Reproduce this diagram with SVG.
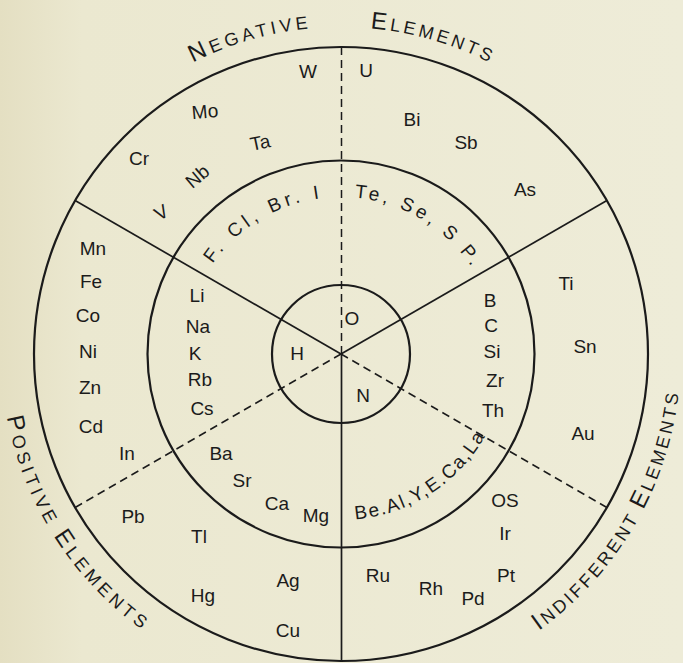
<svg xmlns="http://www.w3.org/2000/svg" width="683" height="663" viewBox="0 0 683 663">
<defs>
<linearGradient id="bg" x1="0" y1="0" x2="1" y2="0">
<stop offset="0" stop-color="#E4DFC2"/>
<stop offset="0.12" stop-color="#EBE8D0"/>
<stop offset="1" stop-color="#EEECD8"/>
</linearGradient>
<path id="arcTop" d="M 14 354 A 327 327 0 0 1 668 354"/>
<path id="arcBot" d="M 1 354 A 340 340 0 0 0 681 354"/>
<path id="arcMidTop" d="M 184 354 A 157 157 0 0 1 498 354"/>
<path id="arcMidBot" d="M 175 354 A 166 166 0 0 0 507 354"/>
</defs>
<style>
.ring{fill:none;stroke:#1b1b1b;stroke-width:2.2}
.solid{stroke:#1b1b1b;stroke-width:1.7;fill:none}
.dash{stroke:#1b1b1b;stroke-width:1.5;fill:none;stroke-dasharray:8 5}
.el{font-family:"Liberation Sans","DejaVu Sans",sans-serif;font-size:19px;fill:#1b1b1b;text-anchor:middle}
.arc{font-family:"Liberation Sans","DejaVu Sans",sans-serif;font-size:19px;fill:#1b1b1b}
.hd{font-family:"Liberation Sans","DejaVu Sans",sans-serif;font-size:18px;fill:#1b1b1b}
.big{font-size:24px}
</style>
<rect width="683" height="663" fill="url(#bg)"/>

<g id="rings">
<circle class="ring" cx="341" cy="354" r="307"/>
<circle class="ring" cx="341" cy="354" r="193.5"/>
<circle class="ring" cx="341" cy="354" r="69"/>
</g>

<g id="connectors">
<line class="solid" x1="341" y1="354" x2="606.9" y2="200.5"/>
<line class="solid" x1="341" y1="354" x2="75.1" y2="200.5"/>
<line class="solid" x1="341.5" y1="354" x2="341.5" y2="661"/>
<line class="dash" x1="341.5" y1="354" x2="341.5" y2="47"/>
<line class="dash" x1="341" y1="354" x2="75.1" y2="507.5"/>
<line class="dash" x1="341" y1="354" x2="606.9" y2="507.5"/>
</g>

<g id="headings">
<text class="hd"><textPath href="#arcTop" startOffset="359.6" textLength="121" lengthAdjust="spacing"><tspan class="big">N</tspan>EGATIVE</textPath></text>
<text class="hd"><textPath href="#arcTop" startOffset="542.8" textLength="124" lengthAdjust="spacing"><tspan class="big">E</tspan>LEMENTS</textPath></text>
<text class="hd"><textPath href="#arcBot" startOffset="63.5" textLength="257" lengthAdjust="spacing"><tspan class="big">P</tspan>OSITIVE <tspan class="big">E</tspan>LEMENTS</textPath></text>
<text class="hd"><textPath href="#arcBot" startOffset="744.7" textLength="283" lengthAdjust="spacing"><tspan class="big">I</tspan>NDIFFERENT <tspan class="big">E</tspan>LEMENTS</textPath></text>
</g>

<g id="center">
<text class="el" x="352" y="325">O</text>
<text class="el" x="297" y="360">H</text>
<text class="el" x="363" y="402">N</text>
</g>

<g id="negative-inner">
<text class="arc"><textPath href="#arcMidTop" startOffset="96" textLength="129" lengthAdjust="spacing">F. Cl, Br. I</textPath></text>
<text class="arc"><textPath href="#arcMidTop" startOffset="260" textLength="140" lengthAdjust="spacing">Te, Se, S P.</textPath></text>
</g>

<g id="negative-outer">
<text class="el" x="308" y="78">W</text>
<text class="el" x="205" y="118" transform="rotate(-5 205 112)">Mo</text>
<text class="el" x="260" y="149" transform="rotate(-12 260 142)">Ta</text>
<text class="el" x="139" y="165">Cr</text>
<text class="el" x="197" y="183" transform="rotate(-40 197 176)">Nb</text>
<text class="el" x="161" y="219" transform="rotate(-30 161 212)">V</text>
<text class="el" x="366" y="77">U</text>
<text class="el" x="412" y="126">Bi</text>
<text class="el" x="466" y="149">Sb</text>
<text class="el" x="525" y="196">As</text>
</g>

<g id="positive-outer">
<text class="el" x="93" y="255">Mn</text>
<text class="el" x="91" y="288">Fe</text>
<text class="el" x="88" y="322">Co</text>
<text class="el" x="88" y="358">Ni</text>
<text class="el" x="90" y="394">Zn</text>
<text class="el" x="91" y="433">Cd</text>
<text class="el" x="127" y="460">In</text>
<text class="el" x="133" y="523">Pb</text>
<text class="el" x="199" y="543">Tl</text>
<text class="el" x="203" y="602">Hg</text>
<text class="el" x="288" y="587">Ag</text>
<text class="el" x="288" y="637">Cu</text>
</g>

<g id="positive-inner">
<text class="el" x="197" y="302">Li</text>
<text class="el" x="198" y="333">Na</text>
<text class="el" x="195" y="360">K</text>
<text class="el" x="200" y="386">Rb</text>
<text class="el" x="202" y="415">Cs</text>
<text class="el" x="221" y="460">Ba</text>
<text class="el" x="242" y="487">Sr</text>
<text class="el" x="277" y="510">Ca</text>
<text class="el" x="316" y="522">Mg</text>
</g>

<g id="indifferent-inner">
<text class="el" x="490" y="307">B</text>
<text class="el" x="491" y="332">C</text>
<text class="el" x="492" y="358">Si</text>
<text class="el" x="495" y="387">Zr</text>
<text class="el" x="493" y="417">Th</text>
<text class="arc"><textPath href="#arcMidBot" startOffset="275" textLength="160" lengthAdjust="spacing">Be.Al,Y,E.Ca,La</textPath></text>
</g>

<g id="indifferent-outer">
<text class="el" x="566" y="290">Ti</text>
<text class="el" x="585" y="353">Sn</text>
<text class="el" x="583" y="440">Au</text>
<text class="el" x="505" y="507">OS</text>
<text class="el" x="505" y="540">Ir</text>
<text class="el" x="506" y="582">Pt</text>
<text class="el" x="378" y="582">Ru</text>
<text class="el" x="431" y="595">Rh</text>
<text class="el" x="473" y="605">Pd</text>
</g>
</svg>
